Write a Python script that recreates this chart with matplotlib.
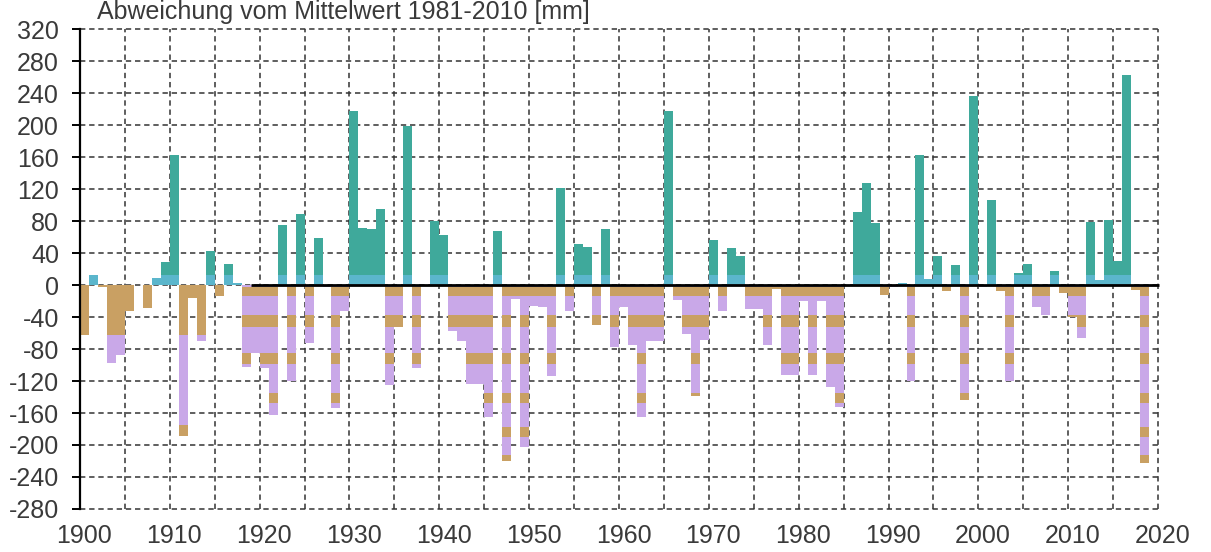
import matplotlib
matplotlib.use("Agg")
import matplotlib.pyplot as plt
import numpy as np

# Niederschlag: Abweichung vom Mittelwert 1981-2010 [mm], 1900-2018
years = np.arange(1900, 2019)
anomaly = [
    -63, 13, -2, -98, -87, -33, 0, -29, 9, 29,          # 1900-1909
    163, -189, -16, -70, 43, -14, 27, 3, -103, -85,     # 1910-1919
    -104, -163, 75, -120, 89, -73, 59, -3, -154, -32,   # 1920-1929
    218, 72, 70, 95, -125, -52, 199, -104, 0, 80,       # 1930-1939
    63, -57, -70, -124, -124, -165, 68, -220, -17, -202,  # 1940-1949
    -26, -28, -114, 122, -33, 52, 48, -50, 70, -77,     # 1950-1959
    -28, -75, -165, -70, -70, 218, -19, -61, -139, -69,  # 1960-1969
    56, -33, 47, 36, -30, -30, -75, -5, -113, -113,     # 1970-1979
    -20, -113, -20, -127, -153, 0, 91, 128, 78, -12,    # 1980-1989
    -3, 3, -120, 163, 8, 36, -8, 25, -144, 236,         # 1990-1999
    -3, 106, -8, -120, 15, 27, -28, -38, 18, -10,       # 2000-2009
    -40, -66, 79, 6, 82, 30, 263, -6, -223,             # 2010-2018
]
x_labels = [1900, 1910, 1920, 1930, 1940, 1950, 1960, 1970, 1980, 1990, 2000, 2010, 2020]
y_ticks = list(range(-280, 321, 40))
title = "Abweichung vom Mittelwert 1981-2010 [mm]"

TEAL = "#3fa99b"
BLUE = "#5bb6cc"
PURPLE = "#c9a8e8"
TAN = "#c9a063"
GRID = "#333333"
TEXT = "#3a3a3a"

# scan look: horizontal colour bands inside the negative bars
tan_bands = [(-2, -14), (-38, -52), (-85, -99), (-135, -147), (-178, -190), (-212, -226)]
early_purple = (-62, -175)

plt.rcParams['font.family'] = ['Liberation Sans', 'DejaVu Sans']

fig = plt.figure(figsize=(12.11, 5.52), dpi=100)
ax = fig.add_axes([0.066, 0.078, 0.894, 0.869])

x0, x1 = 1899.5, 2020.0
ax.set_xlim(x0, x1)
ax.set_ylim(-280, 320)

# grid (dashed) drawn first
dash = (0, (3.5, 2.5))
ax.hlines(y_ticks, x0, 2019.6, colors=GRID, linestyles=dash, linewidth=1.1,
          clip_on=False, zorder=1)
ax.vlines(np.arange(1904.5, 2020, 5), -280, 320, colors=GRID, linestyles=dash,
          linewidth=1.1, clip_on=False, zorder=1)

vals = np.array(anomaly, dtype=float)
pos = np.clip(vals, 0, None)
neg = np.clip(vals, None, 0)
early = years <= 1916

ax.bar(years, pos, width=1.0, color=TEAL, linewidth=0, zorder=2)
ax.bar(years, np.minimum(pos, 12), width=1.0, color=BLUE, linewidth=0, zorder=2)

ax.bar(years[early], neg[early], width=1.0, color=TAN, linewidth=0, zorder=2)
ax.bar(years[~early], neg[~early], width=1.0, color=PURPLE, linewidth=0, zorder=2)

top, bot = early_purple
h = np.where(neg < top, np.maximum(neg, bot) - top, 0)
ax.bar(years[early], h[early], bottom=top, width=1.0, color=PURPLE, linewidth=0, zorder=3)
for top, bot in tan_bands:
    h = np.where(neg < top, np.maximum(neg, bot) - top, 0)
    ax.bar(years[~early], h[~early], bottom=top, width=1.0, color=TAN,
           linewidth=0, zorder=3)

# zero line
ax.hlines(0, 1918.5, 2019.6, colors="black", linewidth=2.0, zorder=4)

for s in ["top", "right", "bottom"]:
    ax.spines[s].set_visible(False)
ax.spines["left"].set_color("black")
ax.spines["left"].set_linewidth(1.6)
ax.spines["left"].set_zorder(5)

ax.set_yticks(y_ticks)
ax.set_yticklabels([str(v) for v in y_ticks], fontsize=18, color=TEXT)
ax.tick_params(axis="y", length=6, width=1.4, color="black", pad=9)
ax.set_xticks(x_labels)
ax.set_xticklabels([str(v) for v in x_labels], fontsize=18, color=TEXT)
ax.tick_params(axis="x", length=0, pad=11)

fig.text(97 / 1211, 1 - 19 / 552, title, fontsize=18, color=TEXT, va="baseline")

fig.savefig("out.png", dpi=100)
